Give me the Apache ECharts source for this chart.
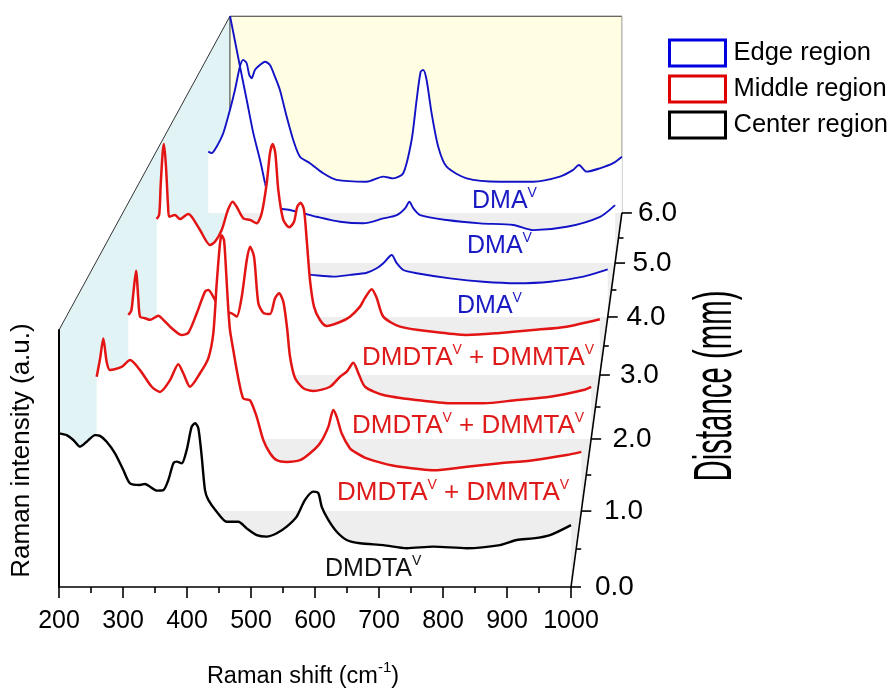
<!DOCTYPE html>
<html>
<head>
<meta charset="utf-8">
<title>Raman waterfall</title>
<script src="https://cdn.jsdelivr.net/npm/echarts@6.0.0/dist/echarts.min.js"></script>
<style>
html,body{margin:0;padding:0;background:#ffffff;}
#chart{width:893px;height:688px;}
</style>
</head>
<body>
<div id="chart"></div>
<script>
// ---------------- data ----------------
const ramanMin = 200, ramanMax = 1000, ramanStep = 100;
const distanceValues = [0, 1, 2, 3, 4, 5, 6];
const distanceTickLabels = ['0.0', '1.0', '2.0', '3.0', '4.0', '5.0', '6.0'];
const regionNames = ['Edge region', 'Middle region', 'Center region'];

// [Raman shift (cm-1), intensity (a.u., 0..100 = plane height)]
const center_0mm = [[200,59.8],[212,59.1],[222.3,57.2],[232.8,54.6],[243.3,56.5],[256.3,59.1],[264.1,58.8],[274.5,56.5],[287.5,52.0],[300.5,45.5],[310.9,40.3],[326.6,39.7],[334.4,40.1],[342.2,39.0],[352.7,37.5],[363,37.7],[370.8,41.6],[378.6,48.1],[383.9,48.8],[391.7,48.1],[399.5,53.3],[407.3,62.4],[412.5,63.7],[417.7,61.8],[423,50.7],[428.1,37.7],[433.3,33.9],[446.4,29.3],[462,25.4],[480.2,25.4],[493.3,22.8],[508.9,20.2],[524.5,19.6],[540.2,20.9],[555.8,23.5],[571.4,27.4],[584.4,33.9],[597.3,37.1],[605.2,36.5],[610.5,31.2],[620.8,26.1],[633.9,21.5],[649.5,18.3],[670.3,17.0],[706.7,16.3],[743.3,15.1],[784.8,15.7],[837,15.1],[889.1,16.3],[915.2,18.3],[941.1,18.9],[967.2,20.2],[1000,24.1]];

const middle_1mm = [[204.9,54.9],[210.3,62],[215.8,70.5],[221.3,60.9],[226.7,57.6],[245.9,58.9],[259.6,61.7],[276,57.6],[295.2,50.8],[308.8,48.7],[325.2,53.5],[338.8,60.0],[347,56.3],[358,50.8],[374.4,56.3],[388,62.4],[396.2,72.6],[401.8,93.0],[407.2,109.4],[410,112.7],[413.8,110.7],[417.1,98.4],[420.4,84.1],[423.6,73.9],[429,65.8],[437.2,54.3],[445.4,46.0],[456.4,45.3],[467.4,38.5],[478.3,29.0],[489.3,23.6],[500.2,20.8],[516.7,20.1],[538.5,20.8],[554.9,23.6],[571.3,27.7],[584.9,34.4],[593.1,41.3],[598.7,38.5],[606.9,31.7],[620.5,25.6],[628.7,24.1],[647.9,21.5],[675.1,19.5],[702.5,18.1],[757.2,16.7],[812,18.1],[866.8,19.5],[921.2,20.8],[976,22.9],[1000,24.2]];

const middle_2mm = [[202.9,53.2],[208,55],[211.7,63],[216.2,72.2],[220.1,60],[223.1,52.5],[231.7,51.8],[240.3,51.1],[254.6,52.9],[263.2,51.1],[277.7,47.5],[294.9,44.6],[306.3,45.6],[320.7,53.9],[335,63.2],[340.7,63.9],[349.3,61.0],[358,57],[368,54.5],[381,53.9],[389.6,52.5],[398.2,61.0],[406.9,76.8],[412.5,82.5],[419.4,78.2],[426.8,58.2],[435.4,54.1],[447,53.6],[455.6,60.4],[462.5,62.5],[469.9,58.8],[476.3,47.6],[481.4,35.3],[490,26.2],[504.3,21.8],[521.6,20.6],[550.3,22.4],[567.5,26.7],[579.1,28.9],[590.5,32.7],[599.1,28.2],[610.6,22.4],[642.1,18.9],[699.7,16.7],[757,15.3],[814.4,15.3],[871.9,16.7],[929.2,18.1],[986.6,21.0],[1000,22.4]];

const middle_3mm = [[201.4,70],[206,72],[208.6,85],[212.3,100],[214.6,103.7],[218.3,93],[221.9,76],[224.1,71],[234.4,71.8],[243.4,70.0],[258.4,72.3],[264.5,71.0],[279.5,65.1],[297.5,58.3],[306.5,59.8],[318.6,65.1],[329.9,74.1],[338.4,77.8],[345.6,75.5],[357.5,70.3],[369.6,69.6],[381.7,68.1],[390.7,72.6],[399.7,86.0],[405.6,99.6],[410.5,103.7],[415.2,99.6],[420.6,83.0],[429.6,69.6],[440.4,66.3],[448.9,68.8],[454.8,75.5],[460.9,77.3],[466.9,74.1],[471.8,60.6],[477.7,42.6],[484.9,30.7],[495.7,24.7],[507.8,22.0],[531.8,23.8],[549.8,26.2],[567.8,30.7],[576.8,34.6],[588.9,38.5],[597.9,34.6],[609.8,26.2],[639.9,21.7],[699.4,19.4],[760.1,18.0],[820.1,18.9],[879.6,20.2],[940.3,21.7],[1000,25.0]];

const edge_4mm = [[200,26],[250,24],[300,22.5],[350,21.5],[400,20.5],[443.2,19.7],[483.9,18.9],[515.3,19.7],[546.7,20.7],[565.5,22.8],[577.9,25.2],[593.7,29.0],[603.1,25.2],[615.5,22.0],[640.7,20.5],[703.4,18.1],[766,16.5],[828.9,15.8],[891.5,16.5],[954.1,18.9],[1000,22.3]];

const edge_5mm = [[245.1,120.6],[264.7,95.8],[277.8,79.6],[290.8,63.3],[303.9,50.3],[313.7,38.9],[323.5,30.8],[343.1,26.7],[362.7,25.9],[388.8,24.3],[415.1,22.6],[460.8,20.2],[506.5,19.4],[545.7,21.8],[572,23.4],[588.2,26.7],[596.7,29.9],[604.5,26.7],[617.6,23.4],[670,21.0],[735.3,19.4],[800.6,18.6],[839.8,16.1],[905.3,17.7],[970.6,22.6],[1000,28.3]];

const edge_6mm = [[155.7,31.2],[162.7,30.4],[172.9,33.7],[186.3,40.5],[200,52.4],[210.2,62.5],[220.4,74.4],[227.1,77.8],[234.1,76.1],[239.4,70.2],[244.3,68.5],[251,72.7],[261.2,75.2],[271.4,76.9],[281.6,75.2],[291.8,69.3],[302,62.5],[315.7,49.0],[329.2,37.1],[342.9,28.6],[363.3,25.3],[390.4,20.2],[417.8,16.8],[479,15.9],[512.9,18.5],[533.3,17.6],[553.7,20.2],[570.8,37.1],[581,57.4],[589.2,71.8],[594.5,72.7],[601.4,67.6],[611.6,50.7],[625.1,33.7],[642.2,23.5],[683.1,17.6],[751,15.9],[819,15.9],[873.5,18.5],[900.6,21.9],[912.2,24.4],[928,21.0],[955.1,22.7],[982.2,25.3],[1000,28.6]];

const spectra = [center_0mm, middle_1mm, middle_2mm, middle_3mm, edge_4mm, edge_5mm, edge_6mm];
const spectrumRegion = [2, 1, 1, 1, 0, 0, 0];          // index into regionNames
const speciesParts = [['DMDTA'], ['DMDTA', 'DMMTA'], ['DMDTA', 'DMMTA'], ['DMDTA', 'DMMTA'], ['DMA'], ['DMA'], ['DMA']];
const oxidationState = 'V';

// ---------------- layout / style ----------------
const FONT = '"Liberation Sans", Arial, Helvetica, sans-serif';
const VANISH = [788, -1008];
const FRONT = { left: 59, width: 512, base: 587, height: 257 };
const planeScale = [1, 0.9524, 0.9072, 0.8671, 0.8307, 0.7969, 0.7655];
const regionLine = ['#1212c6', '#e21414', '#000000'];
const regionLabel = ['#1a1ac4', '#de1a1a', '#111111'];
const regionLegend = ['#0000e0', '#e00000', '#000000'];
const regionWidth = [1.9, 2.5, 2.4];
const speciesLabelPos = [[325, 569], [337, 493], [352, 426], [362, 358], [457, 306], [467, 246.5], [472, 201]];
const speciesFont = [25, 26, 26, 26, 25, 25, 25];
const steepSplit = 313.7; // edge 5 mm: steep rising flank drawn without fill

const chart = echarts.init(document.getElementById('chart'), null, { renderer: 'canvas' });

// axis start of each plane (a plane may hold a few points below 200 cm-1)
const axisStart = spectra.map(sp => Math.min(ramanMin, sp[0][0]));
const pxPerUnit = FRONT.width / (ramanMax - ramanMin);

const grids = planeScale.map((s, k) => {
  const extra = (ramanMin - axisStart[k]) * pxPerUnit * s;
  return {
    left: VANISH[0] - s * (VANISH[0] - FRONT.left) - extra,
    top: VANISH[1] + s * (FRONT.base - VANISH[1]) - FRONT.height * s,
    width: FRONT.width * s + extra,
    height: FRONT.height * s,
    containLabel: false,
    outerBoundsMode: 'none'
  };
});

const xAxes = planeScale.map((s, k) => {
  if (k > 0) return { gridIndex: k, type: 'value', min: axisStart[k], max: ramanMax, show: false };
  return {
    gridIndex: 0, type: 'value', min: ramanMin, max: ramanMax, interval: ramanStep, z: 30,
    axisLine: { show: true, onZero: false, lineStyle: { color: '#000', width: 1.6 } },
    axisTick: { show: true, length: 11, lineStyle: { color: '#000', width: 1.6 } },
    minorTick: { show: true, splitNumber: 2, length: 6, lineStyle: { color: '#000', width: 1.6 } },
    splitLine: { show: false },
    axisLabel: { fontSize: 25, color: '#000', fontFamily: FONT, margin: 22, formatter: v => String(v) },
    name: '{a|Raman shift (cm}{s|-1}{a|)}',
    nameLocation: 'middle',
    nameGap: 73,
    nameTextStyle: {
      padding: [0, 24, 0, 0],
      rich: {
        a: { fontSize: 23.5, fontFamily: FONT, color: '#000', lineHeight: 34 },
        s: { fontSize: 15, fontFamily: FONT, color: '#000', lineHeight: 15, verticalAlign: 'top' }
      }
    }
  };
});

const yAxes = planeScale.map((s, k) => {
  if (k > 0) return { gridIndex: k, type: 'value', min: 0, max: 100, show: false };
  return {
    gridIndex: 0, type: 'value', min: 0, max: 100, z: 30,
    axisLine: { show: true, lineStyle: { color: '#000', width: 2 } },
    axisTick: { show: false }, axisLabel: { show: false }, splitLine: { show: false },
    name: 'Raman intensity (a.u.)', nameLocation: 'middle', nameGap: 24,
    nameTextStyle: { fontSize: 26, fontFamily: FONT, color: '#000', padding: [0, 0, 0, 16] }
  };
});

const series = [];
for (let k = spectra.length - 1; k >= 0; k--) {
  const r = spectrumRegion[k];
  const base = {
    type: 'line', xAxisIndex: k, yAxisIndex: k, showSymbol: false, symbol: 'none',
    clip: false, smooth: 0.25, silent: true, animation: false, z: 10 + (6 - k),
    lineStyle: { color: regionLine[r], width: regionWidth[r] }
  };
  const fill = { color: '#ffffff', opacity: 1, origin: 'start' };
  if (k === 5) {
    series.push(Object.assign({}, base, { name: 'spec5', data: spectra[k].filter(p => p[0] >= steepSplit), areaStyle: fill }));
    series.push(Object.assign({}, base, { name: 'spec5b', data: spectra[k].filter(p => p[0] <= steepSplit) }));
  } else {
    series.push(Object.assign({}, base, { name: 'spec' + k, data: spectra[k], areaStyle: fill }));
  }
}
regionNames.forEach((n, i) => series.push({
  type: 'bar', name: n, xAxisIndex: 0, yAxisIndex: 0, data: [],
  itemStyle: { color: 'rgba(0,0,0,0)', borderColor: regionLegend[i], borderWidth: 3 }
}));

chart.setOption({
  animation: false,
  backgroundColor: '#ffffff',
  textStyle: { fontFamily: FONT },
  grid: grids,
  xAxis: xAxes,
  yAxis: yAxes,
  legend: {
    show: true, orient: 'vertical', left: 668, top: 38.5, padding: 0,
    itemWidth: 56, itemHeight: 26, itemGap: 7, icon: 'rect', selectedMode: false,
    textStyle: { fontSize: 25.5, color: '#000', fontFamily: FONT, lineHeight: 26, padding: [0, 0, 0, 3] },
    data: regionNames.map((n, i) => ({
      name: n, icon: 'rect',
      itemStyle: { color: 'rgba(0,0,0,0)', borderColor: regionLegend[i], borderWidth: 3 }
    }))
  },
  series: series
});

// ---------------- perspective frame (from the grids' own scales) ----------------
const P = (k, x, y) => chart.convertToPixel({ gridIndex: k }, [x, y]);
const last = planeScale.length - 1;
const F0 = P(0, ramanMin, 0), F1 = P(0, ramanMax, 0), Ft = P(0, ramanMin, 100);
const B0 = P(last, ramanMin, 0), B1 = P(last, ramanMax, 0), Bt0 = P(last, ramanMin, 100), Bt1 = P(last, ramanMax, 100);

const g = [];
g.push({ type: 'polygon', z: 0, z2: 0, silent: true, shape: { points: [F0, Ft, Bt0, B0] }, style: { fill: '#e2f3f5' } });
g.push({ type: 'polygon', z: 0, z2: 1, silent: true, shape: { points: [Bt0, Bt1, B1, B0] }, style: { fill: '#fffde2' } });
g.push({ type: 'polygon', z: 0, z2: 2, silent: true, shape: { points: [F0, F1, B1, B0] }, style: { fill: '#eeeeee' } });
const seg = (a, b, stroke, w, z) => ({ type: 'line', z: z, z2: 5, silent: true, shape: { x1: a[0], y1: a[1], x2: b[0], y2: b[1] }, style: { stroke: stroke, lineWidth: w } });
g.push(seg(Ft, Bt0, '#333', 1, 0));
g.push(seg(Bt0, Bt1, '#333', 1, 0));
g.push(seg(Bt0, B0, '#333', 1, 0));
g.push(seg(Bt1, B1, '#999', 1, 0));
g.push(seg([B0[0], B0[1] - 0.5], [B1[0], B1[1] - 0.5], '#333', 1, 0));

// distance axis
g.push(seg(F1, B1, '#000', 1.6, 40));
const corners = distanceValues.map((d, k) => P(k, ramanMax, 0));
corners.forEach((c, k) => {
  g.push(seg(c, [c[0] + 10, c[1]], '#000', 1.6, 40));
  g.push({
    type: 'text', z: 40, silent: true, x: c[0] + 24 - k * 1.3, y: c[1],
    style: { text: distanceTickLabels[k], fontSize: 28, fontFamily: FONT, fill: '#000',
      align: 'left', verticalAlign: 'middle', textAlign: 'left', textVerticalAlign: 'middle' }
  });
  if (k < corners.length - 1) {
    const n = corners[k + 1];
    const m = [(c[0] + n[0]) / 2, (c[1] + n[1]) / 2];
    g.push(seg(m, [m[0] + 5, m[1]], '#000', 1.6, 40));
  }
});
g.push({
  type: 'text', z: 40, silent: true, x: 716, y: 386, rotation: Math.PI / 2, scaleX: 0.6, scaleY: 1.08,
  style: { text: 'Distance (mm)', fontSize: 49, fontFamily: FONT, fill: '#000',
    align: 'center', verticalAlign: 'middle', textAlign: 'center', textVerticalAlign: 'middle' }
});

// species labels
speciesParts.forEach((parts, k) => {
  const col = regionLabel[spectrumRegion[k]];
  const fs = speciesFont[k];
  const txt = parts.map(p => '{m|' + p + '}{s|' + oxidationState + '}').join('{m| + }');
  g.push({
    type: 'text', z: 40, silent: true, x: speciesLabelPos[k][0], y: speciesLabelPos[k][1],
    style: {
      text: txt, fill: col, fontSize: fs, fontFamily: FONT,
      align: 'left', verticalAlign: 'middle', textAlign: 'left', textVerticalAlign: 'middle',
      rich: {
        m: { fontSize: fs, fontFamily: FONT, fill: col, lineHeight: 30 },
        s: { fontSize: 14, fontFamily: FONT, fill: col, lineHeight: 14, verticalAlign: 'top' }
      }
    }
  });
});

chart.setOption({ graphic: { elements: g } });
</script>
</body>
</html>
